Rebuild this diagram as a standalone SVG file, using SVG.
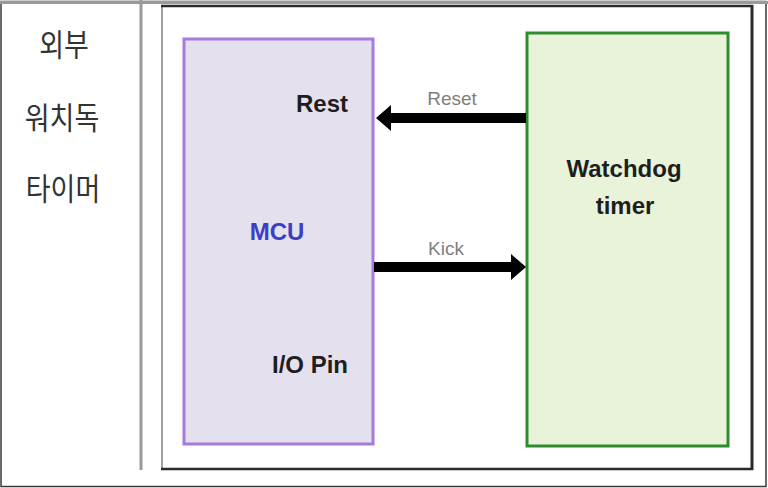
<svg xmlns="http://www.w3.org/2000/svg" width="768" height="488" viewBox="0 0 768 488">
  <style>
    .kr { font-family: "Noto Sans CJK KR", "Noto Sans", sans-serif; font-size: 31px; fill: #333; text-anchor: middle; }
    .lbl { font-family: "Liberation Sans", Arial, sans-serif; font-weight: bold; font-size: 24px; fill: #1e1e1e; }
    .conn-lbl { font-family: "Liberation Sans", Arial, sans-serif; font-size: 19px; fill: #808080; text-anchor: middle; }
    .arrow { stroke: #000; stroke-width: 10; fill: none; }
  </style>
  <defs>
    <marker id="head" markerUnits="userSpaceOnUse" viewBox="0 0 15 26" markerWidth="15" markerHeight="26" refX="0" refY="13" orient="auto">
      <path d="M0,0 L15,13 L0,26 Z" fill="#000"/>
    </marker>
  </defs>
  <rect x="0" y="0" width="768" height="488" fill="#fff"/>
  <g id="frame">
    <rect x="1" y="1.5" width="765" height="485" fill="none" stroke="#3a3a3a" stroke-width="1.5"/>
    <line x1="0" y1="2.5" x2="768" y2="2.5" stroke="#9a9a9a" stroke-width="3"/>
    <line x1="141" y1="0" x2="141" y2="470" stroke="#9a9a9a" stroke-width="3"/>
    <line x1="162" y1="6" x2="162" y2="469" stroke="#a0a0a0" stroke-width="2"/>
    <line x1="161" y1="6" x2="753" y2="6" stroke="#2a2a2a" stroke-width="2.5"/>
    <line x1="752" y1="5" x2="752" y2="470" stroke="#2a2a2a" stroke-width="3"/>
    <line x1="161" y1="469" x2="753" y2="469" stroke="#2a2a2a" stroke-width="2.5"/>
  </g>
  <g id="title">
    <text class="kr" transform="translate(64,56) scale(0.87,1)">외부</text>
    <text class="kr" transform="translate(62,129) scale(0.87,1)">워치독</text>
    <text class="kr" transform="translate(63,200) scale(0.87,1)">타이머</text>
  </g>
  <g id="mcu">
    <rect x="184" y="39" width="189" height="405" fill="#e5e0ee" stroke="#a67ade" stroke-width="3"/>
    <text class="lbl" x="348" y="112" text-anchor="end">Rest</text>
    <text class="lbl" x="277" y="240" text-anchor="middle" style="fill:#3b3fc4">MCU</text>
    <text class="lbl" x="348" y="373" text-anchor="end">I/O Pin</text>
  </g>
  <g id="watchdog">
    <rect x="527" y="33" width="201" height="413" fill="#e8f3da" stroke="#2e8b2e" stroke-width="3"/>
    <text class="lbl" x="624" y="177" text-anchor="middle">Watchdog</text>
    <text class="lbl" x="625" y="214" text-anchor="middle">timer</text>
  </g>
  <g id="connectors">
    <line class="arrow" x1="526" y1="118" x2="391" y2="118" marker-end="url(#head)"/>
    <text class="conn-lbl" x="452" y="105">Reset</text>
    <line class="arrow" x1="374" y1="267" x2="511" y2="267" marker-end="url(#head)"/>
    <text class="conn-lbl" x="446" y="255">Kick</text>
  </g>
</svg>
